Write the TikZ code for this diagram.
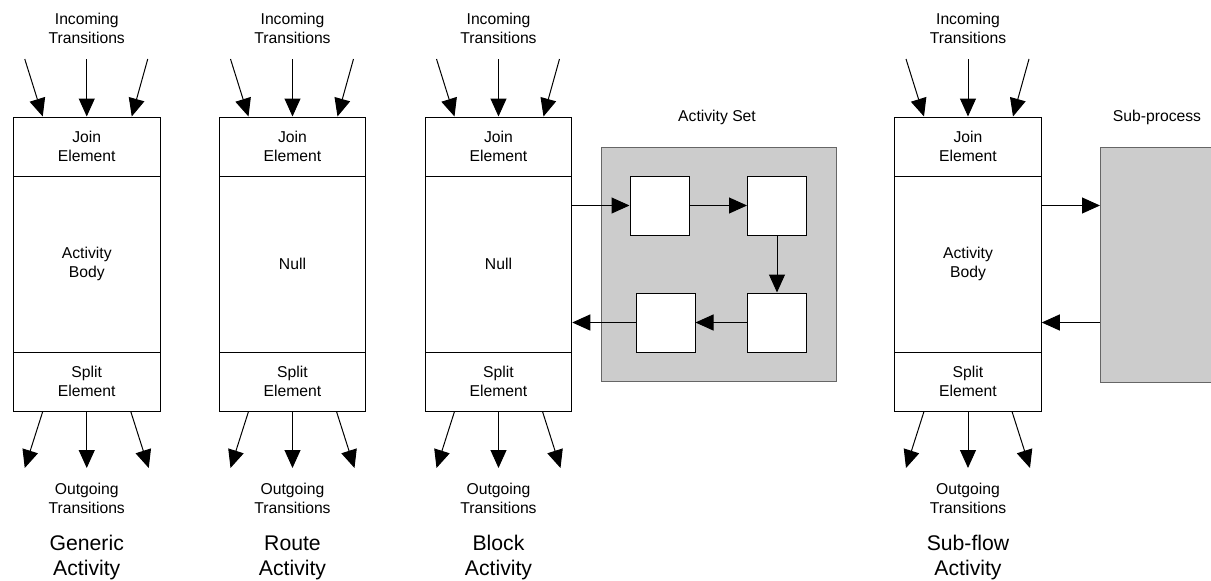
\documentclass[tikz,border=0pt]{standalone}
\usepackage{fontspec}
\setmainfont{Liberation Sans}
\usetikzlibrary{arrows.meta,calc}
\begin{document}
\begin{tikzpicture}[x=1pt,y=-1pt,
  every node/.style={inner sep=0pt, align=center},
  small/.style={font=\fontsize{15.7}{19.5}\selectfont},
  big/.style={font=\fontsize{21.2}{25}\selectfont},
  part/.style={draw=black, line width=1pt, fill=white, minimum width=146.5pt, small},
  flow/.style={line width=1pt, -{Triangle[length=18pt,width=16pt]}},
  region/.style={draw=black!60, fill=black!20, line width=1pt},
  cell/.style={draw=black, fill=white, line width=1pt, minimum size=59pt}
]
\useasboundingbox (0,0) rectangle (1211,581);

% the four activity columns: join / body / split with their transitions
\foreach \i/\cx/\body/\kind in {1/86.75/{Activity\\Body}/Generic,
                                2/292.5/Null/Route,
                                3/498.5/Null/Block,
                                4/968/{Activity\\Body}/Sub-flow}{
  \node[part, minimum height=176pt] (body\i)  at (\cx,264)   {\body};
  \node[part, minimum height=59pt]  (join\i)  at (\cx,146.5) {Join\\Element};
  \node[part, minimum height=59pt]  (split\i) at (\cx,381.5) {Split\\Element};

  \node[small] (inc\i)  at (\cx,28.5)  {Incoming\\Transitions};
  \node[small] (out\i)  at (\cx,498.5) {Outgoing\\Transitions};
  \node[big]   (name\i) at (\cx,557.5) {\kind\\Activity};

  \coordinate (inL\i)  at (\cx-62,59);
  \coordinate (inM\i)  at (\cx,59);
  \coordinate (inR\i)  at (\cx+61,59);
  \coordinate (outL\i) at (\cx-62,468);
  \coordinate (outM\i) at (\cx,468);
  \coordinate (outR\i) at (\cx+62,468);

  \draw[flow] (inL\i) -- ([xshift=-44pt]join\i.north);
  \draw[flow] (inM\i) -- (join\i.north);
  \draw[flow] (inR\i) -- ([xshift=45pt]join\i.north);
  \draw[flow] ([xshift=-44pt]split\i.south) -- (outL\i);
  \draw[flow] (split\i.south) -- (outM\i);
  \draw[flow] ([xshift=44pt]split\i.south) -- (outR\i);
}

% activity set of the block activity
\node[small] (asetlabel) at (717,117) {Activity Set};
\node[region, minimum width=235pt, minimum height=234pt, anchor=north west] (aset) at (601,147) {};
\node[cell] (sq1) at (659.5,205.5) {};
\node[cell] (sq2) at (777,205.5) {};
\node[cell] (sq3) at (777,322.5) {};
\node[cell] (sq4) at (665.5,322.5) {};
\draw[flow] (body3.east |- sq1.west) -- (sq1.west);
\draw[flow] (sq1.east) -- (sq2.west);
\draw[flow] (sq2.south) -- (sq3.north);
\draw[flow] (sq3.west) -- (sq4.east);
\draw[flow] (sq4.west) -- (body3.east |- sq4.west);

% sub-process of the sub-flow activity
\node[small] (sublabel) at (1157,117) {Sub-process};
\node[region, minimum width=140pt, minimum height=235pt, anchor=north west] (sub) at (1100,147) {};
\draw[flow] (body4.east |- sq1.west) -- (sub.west |- sq1.west);
\draw[flow] (sub.west |- sq3.west) -- (body4.east |- sq3.west);
\end{tikzpicture}
\end{document}
